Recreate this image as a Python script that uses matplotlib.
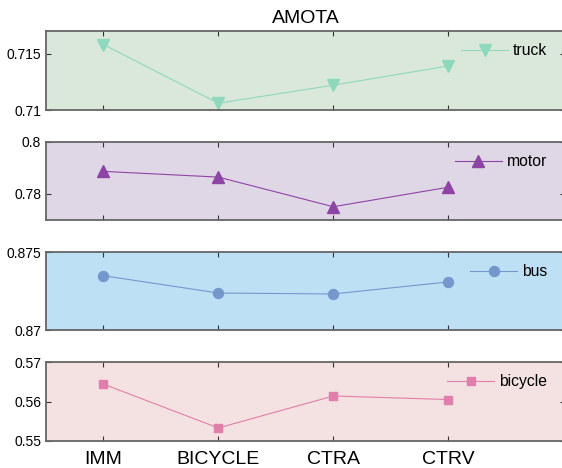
import matplotlib
matplotlib.use('Agg')
import matplotlib.pyplot as plt

plt.rcParams['font.family'] = ['Liberation Sans', 'DejaVu Sans']

methods = ['IMM', 'BICYCLE', 'CTRA', 'CTRV']
truck = [0.7158, 0.7106, 0.7122, 0.7139]
motor = [0.7887, 0.7865, 0.7751, 0.7826]
bus = [0.87348, 0.87237, 0.87231, 0.87308]
bicycle = [0.5644, 0.5533, 0.5614, 0.5605]

# (name, values, marker, marker size, line colour, background, ylim, yticks, tick labels)
panels = [
  ('truck', truck, 'v', 8.5, '#8ed8bd', '#dae8da', (0.71, 0.717), [0.71, 0.715], ['0.71', '0.715']),
  ('motor', motor, '^', 8.0, '#8e44a4', '#dfd6e6', (0.77, 0.80), [0.78, 0.80], ['0.78', '0.8']),
  ('bus', bus, 'o', 7.2, '#7498cc', '#bde0f5', (0.87, 0.875), [0.87, 0.875], ['0.87', '0.875']),
  ('bicycle', bicycle, 's', 5.8, '#e07fab', '#f4e1e1', (0.55, 0.57), [0.55, 0.56, 0.57], ['0.55', '0.56', '0.57']),
]

# pixel rows of each panel (top, bottom)
rows = [(31, 110), (142, 220), (252, 330), (362, 441)]
W, H = 562, 468
LEFT, RIGHT = 46, 565  # right spine falls just outside the picture
XMAX = 0.5 + (RIGHT - LEFT) / 114.9

fig = plt.figure(figsize=(W / 100, H / 100), dpi=100)
x = list(range(1, len(methods) + 1))

for i, (name, vals, mk, ms, col, bg, ylim, yt, ytl) in enumerate(panels):
  top, bot = rows[i]
  ax = fig.add_axes([LEFT / W, 1 - bot / H, (RIGHT - LEFT) / W, (bot - top) / H])
  ax.set_facecolor(bg)
  ax.plot(x, vals, color=col, lw=0.8, marker=mk, ms=ms, mfc=col, mec=col, label=name)
  ax.set_xlim(0.5, XMAX)
  ax.set_ylim(*ylim)
  ax.set_yticks(yt)
  ax.set_yticklabels(ytl)
  ax.set_xticks(x)
  ax.tick_params(direction='in', top=True, right=True, length=3.6, width=0.8,
                 color='#333333', labelsize=10, pad=3.5)
  if i == len(panels) - 1:
    ax.set_xticklabels(methods)
    ax.tick_params(axis='x', labelsize=14, pad=7)
  else:
    ax.set_xticklabels([])
  for s in ax.spines.values():
    s.set_color('#666666')
    s.set_linewidth(1.3)
  ry = 1 - 19.5 / (bot - top)
  ax.legend(loc='center right', bbox_to_anchor=(1 - (RIGHT - 547) / (RIGHT - LEFT), ry),
            frameon=False, fontsize=11.3, handlelength=3.0, handletextpad=0.3,
            borderpad=0, borderaxespad=0)
  if i == 0:
    ax.set_title('AMOTA', fontsize=14, pad=6)

fig.savefig('out.png', dpi=100)
